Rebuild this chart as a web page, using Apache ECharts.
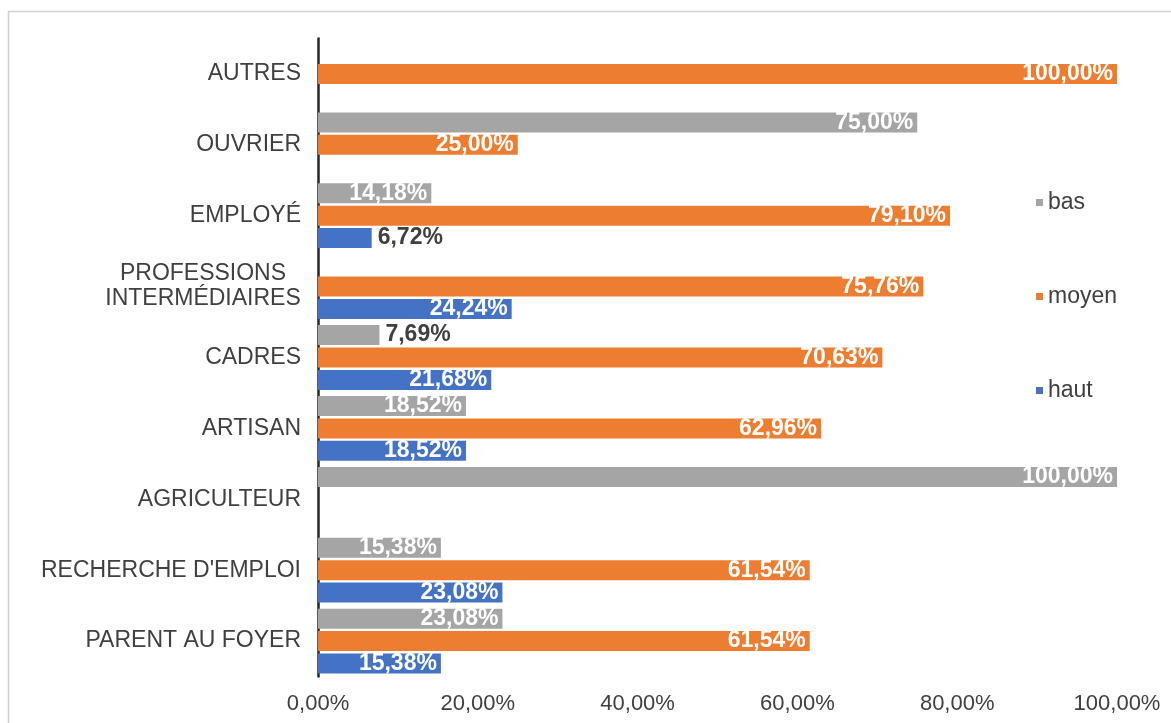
<!DOCTYPE html>
<html>
<head>
<meta charset="utf-8">
<script src="https://cdn.jsdelivr.net/npm/echarts@6/dist/echarts.min.js"></script>
<style>
  html, body { margin: 0; padding: 0; background: #ffffff; }
  #chart { width: 1171px; height: 723px; }
</style>
</head>
<body>
<div id="chart"></div>
<script>
// Catégories socio-professionnelles, de bas en haut
const categories = [
  'PARENT AU FOYER',
  "RECHERCHE D'EMPLOI",
  'AGRICULTEUR',
  'ARTISAN',
  'CADRES',
  'PROFESSIONS\nINTERMÉDIAIRES',
  'EMPLOYÉ',
  'OUVRIER',
  'AUTRES'
];

// Parts (%) par niveau ; null = aucune valeur
const bas   = [23.08, 15.38, 100.00, 18.52, 7.69, null, 14.18, 75.00, null];
const moyen = [61.54, 61.54, null, 62.96, 70.63, 75.76, 79.10, 25.00, 100.00];
const haut  = [15.38, 23.08, null, 18.52, 21.68, 24.24, 6.72, null, null];

const xTicks = [0, 20, 40, 60, 80, 100];

const FONT = '"Liberation Sans", Arial, sans-serif';
const TEXT = '#404040';

function fmt(v) {
  return v.toFixed(2).replace('.', ',') + '%';
}

// Labels sit inside the bar end, or just outside when the bar is too short
function toData(values) {
  return values.map(v => {
    if (v == null) return null;
    const short = v < 12;
    return {
      value: v,
      label: short
        ? { position: 'right', color: TEXT, distance: 6 }
        : { position: 'insideRight', color: '#ffffff', distance: 4 }
    };
  });
}

function makeSeries(name, values, color) {
  return {
    name: name,
    type: 'bar',
    data: toData(values),
    barWidth: 20,
    barGap: '12%',
    itemStyle: { color: color },
    label: {
      show: true,
      fontFamily: FONT,
      fontSize: 23,
      fontWeight: 'bold',
      formatter: p => fmt(p.value)
    }
  };
}

const chart = echarts.init(document.getElementById('chart'));
chart.setOption({
  animation: false,
  backgroundColor: '#ffffff',
  graphic: [{
    type: 'rect',
    shape: { x: 8.5, y: 11.5, width: 1200, height: 800 },
    style: { fill: 'none', stroke: '#cfcfcf', lineWidth: 1.5 },
    silent: true,
    z: -1
  }],
  grid: { left: 318, right: 54, top: 38.5, bottom: 46.5, containLabel: false },
  legend: {
    orient: 'vertical',
    left: 1031,
    top: 186,
    itemWidth: 7,
    itemHeight: 7,
    itemGap: 71,
    icon: 'rect',
    textStyle: { fontFamily: FONT, fontSize: 23, color: TEXT, padding: [0, 0, 0, 0] },
    data: ['bas', 'moyen', 'haut']
  },
  xAxis: {
    type: 'value',
    min: xTicks[0],
    max: xTicks[xTicks.length - 1],
    interval: 20,
    axisLine: { show: false },
    axisTick: { show: false },
    splitLine: { show: false },
    axisLabel: {
      fontFamily: FONT,
      fontSize: 22,
      color: TEXT,
      margin: 16,
      formatter: v => fmt(v)
    }
  },
  yAxis: {
    type: 'category',
    data: categories,
    axisLine: { show: true, lineStyle: { color: '#262626', width: 2.5 } },
    axisTick: { show: false },
    axisLabel: {
      fontFamily: FONT,
      fontSize: 23,
      color: TEXT,
      margin: 17,
      align: 'right',
      lineHeight: 25,
      // two-line names are centred line by line
      formatter: v => v.indexOf('\n') < 0
        ? v
        : v.split('\n').map(s => '{m|' + s + '}').join('\n'),
      rich: {
        m: { fontFamily: FONT, fontSize: 23, color: TEXT, width: 196, align: 'center', lineHeight: 25 }
      }
    }
  },
  series: [
    makeSeries('bas', bas, '#a5a5a5'),
    makeSeries('moyen', moyen, '#ed7d31'),
    makeSeries('haut', haut, '#4472c4')
  ]
});
</script>
</body>
</html>
